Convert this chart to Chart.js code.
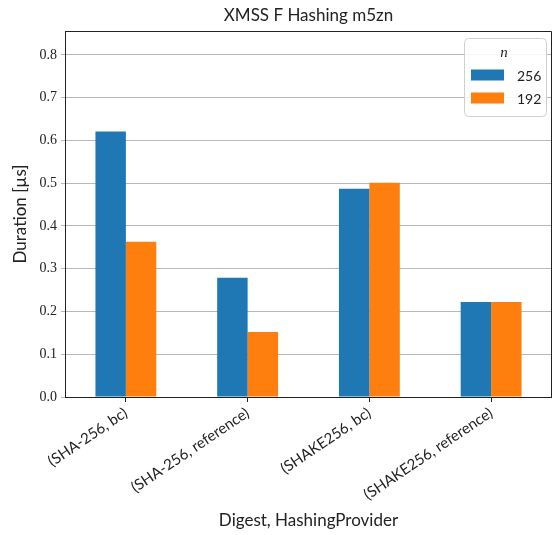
<!DOCTYPE html>
<html>
<head>
<meta charset="utf-8">
<script src="https://cdn.jsdelivr.net/npm/chart.js@4/dist/chart.umd.min.js"></script>
<style>
html,body{margin:0;padding:0;background:#fff;}
#wrap{width:552px;height:535px;}
</style>
</head>
<body>
<div id="wrap"><canvas id="c" width="552" height="535"></canvas></div>
<script>
const categories = ["(SHA-256, bc)", "(SHA-256, reference)", "(SHAKE256, bc)", "(SHAKE256, reference)"];
const seriesNames = ["256", "192"];
const values256 = [0.621, 0.279, 0.487, 0.222];
const values192 = [0.363, 0.152, 0.501, 0.222];
const yTicks = [0.0, 0.1, 0.2, 0.3, 0.4, 0.5, 0.6, 0.7, 0.8];
const chartTitle = "XMSS F Hashing m5zn";
const xTitle = "Digest, HashingProvider";
const yTitle = "Duration [µs]";
const legendTitle = "n";

const SANS = "Lato, 'Open Sans', sans-serif";
const SERIF = "'Liberation Serif', 'DejaVu Serif', serif";

const extras = {
  id: 'extras',
  afterDraw(chart) {
    const ctx = chart.ctx;
    const a = chart.chartArea;
    ctx.save();
    // frame
    ctx.strokeStyle = '#222';
    ctx.lineWidth = 1;
    ctx.beginPath();
    ctx.moveTo(a.left + 0.5, a.bottom + 0.5);
    ctx.lineTo(a.left + 0.5, a.top + 0.5);
    ctx.lineTo(a.right - 0.5, a.top + 0.5);
    ctx.lineTo(a.right - 0.5, a.bottom + 0.5);
    ctx.stroke();
    // title
    ctx.fillStyle = '#222';
    ctx.font = "17px " + SANS;
    ctx.textAlign = 'center';
    ctx.textBaseline = 'middle';
    ctx.fillText(chartTitle, (a.left + a.right) / 2, 16);
    // legend
    const lx = 464, ly = 38, lw = 82, lh = 78;
    ctx.fillStyle = 'rgba(255,255,255,0.85)';
    ctx.strokeStyle = '#d0d0d0';
    ctx.beginPath();
    ctx.roundRect(lx + 0.5, ly + 0.5, lw, lh, 4);
    ctx.fill();
    ctx.stroke();
    ctx.fillStyle = '#222';
    ctx.font = "italic 15px " + SERIF;
    ctx.textAlign = 'center';
    ctx.fillText(legendTitle, lx + lw / 2 - 1, ly + 15);
    chart.data.datasets.forEach((ds, i) => {
      const ry = ly + 37 + i * 23;
      ctx.fillStyle = ds.backgroundColor;
      ctx.fillRect(lx + 7, ry - 5.5, 33, 11);
      ctx.fillStyle = '#222';
      ctx.font = "14px " + SANS;
      ctx.textAlign = 'left';
      ctx.fillText(ds.label, lx + 53, ry + 1);
    });
    ctx.restore();
  }
};

new Chart(document.getElementById('c'), {
  type: 'bar',
  data: {
    labels: categories,
    datasets: [
      { label: seriesNames[0], data: values256, backgroundColor: '#1f77b4', categoryPercentage: 0.5, barPercentage: 1.0, borderWidth: 0 },
      { label: seriesNames[1], data: values192, backgroundColor: '#ff7f0e', categoryPercentage: 0.5, barPercentage: 1.0, borderWidth: 0 }
    ]
  },
  options: {
    responsive: false,
    animation: false,
    layout: { padding: { top: 31, right: 0, left: 0, bottom: 0 } },
    plugins: { legend: { display: false }, title: { display: false }, tooltip: { enabled: false } },
    scales: {
      x: {
        grid: { display: true, drawOnChartArea: false, drawTicks: true, tickLength: 5, offset: false, color: '#222' },
        border: { display: true, color: '#222' },
        ticks: { color: '#222', font: { family: SANS, size: 15 }, minRotation: 34, maxRotation: 34, padding: 2 },
        title: { display: true, text: xTitle, color: '#222', font: { family: SANS, size: 17 }, padding: { top: 0, bottom: 4 } },
        afterFit(s) { s.height = 138; }
      },
      y: {
        min: 0, max: 0.856,
        afterBuildTicks(s) { s.ticks = yTicks.map(v => ({ value: v })); },
        grid: { color: '#b8b8b8', lineWidth: 1, drawTicks: true, tickLength: 4 },
        border: { display: true, color: '#222' },
        ticks: { color: '#222', font: { family: SERIF, size: 14 }, padding: 4, callback: v => Number(v).toFixed(1) },
        title: { display: true, text: yTitle, color: '#222', font: { family: SANS, size: 17 }, padding: { top: 10, bottom: 0 } },
        afterFit(s) { s.width = 65; }
      }
    }
  },
  plugins: [extras]
});
</script>
</body>
</html>
